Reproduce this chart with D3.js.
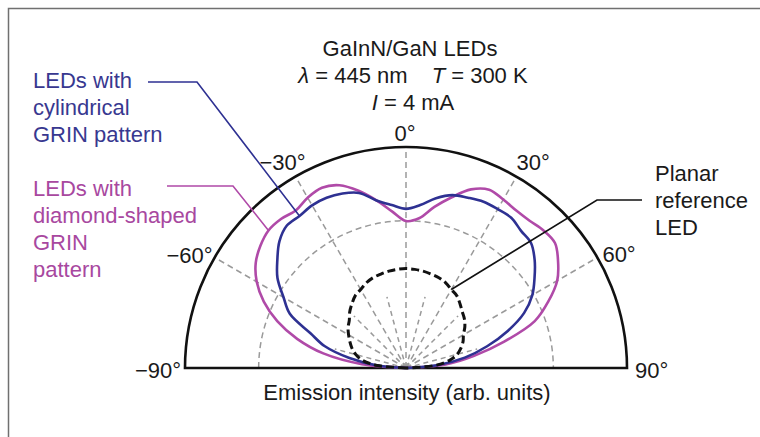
<!DOCTYPE html>
<html>
<head>
<meta charset="utf-8">
<script src="https://cdn.jsdelivr.net/npm/d3@7"></script>
<style>
  body { margin: 0; background: #fff; }
  text { font-family: "Liberation Sans", Arial, sans-serif; font-size: 22px; fill: #1a1a1a; }
</style>
</head>
<body>
<svg id="drawing_region"></svg>
<script>
var width = 760;
var height = 437;

// emission angle (deg), 0 = surface normal
const angles = [-90, -85, -80, -75, -70, -65, -60, -55, -50, -45, -40, -35, -30, -25, -20, -15, -10, -5,
                0, 5, 10, 15, 20, 25, 30, 35, 40, 45, 50, 55, 60, 65, 70, 75, 80, 85, 90];

// emission intensity (arb. units, outer circle = 1)
const cylindrical = [0, 0.13, 0.26, 0.38, 0.46, 0.58, 0.64, 0.71, 0.76, 0.81, 0.84, 0.84, 0.85, 0.85, 0.84, 0.82, 0.77, 0.74,
                     0.72, 0.74, 0.78, 0.81, 0.82, 0.83, 0.83, 0.83, 0.81, 0.80, 0.76, 0.71, 0.66, 0.59, 0.49, 0.38, 0.27, 0.14, 0];
const diamond = [0, 0.20, 0.38, 0.51, 0.62, 0.71, 0.78, 0.83, 0.86, 0.88, 0.88, 0.87, 0.89, 0.90, 0.88, 0.83, 0.77, 0.71,
                 0.665, 0.68, 0.74, 0.80, 0.86, 0.89, 0.88, 0.87, 0.87, 0.88, 0.88, 0.84, 0.79, 0.71, 0.62, 0.46, 0.31, 0.18, 0];
const planar = [0, 0.13, 0.20, 0.235, 0.26, 0.28, 0.30, 0.32, 0.335, 0.36, 0.38, 0.40, 0.41, 0.425, 0.435, 0.44, 0.445, 0.448,
                0.45, 0.448, 0.445, 0.44, 0.435, 0.425, 0.41, 0.40, 0.38, 0.36, 0.345, 0.325, 0.30, 0.285, 0.265, 0.24, 0.20, 0.13, 0];

const tickAngles = [-90, -60, -30, 0, 30, 60, 90];
const tickLabels = ['\u221290\u00b0', '\u221260\u00b0', '\u221230\u00b0', '0\u00b0', '30\u00b0', '60\u00b0', '90\u00b0'];
const minorAngles = [-75, -45, -15, 15, 45, 75];
const gridRings = [2 / 3];

const blue = '#2e3192', magenta = '#b04aa8';

var svg = d3.select('#drawing_region')
      .attr('width', width)
      .attr('height', height);

// picture frame
svg.append('rect')
      .attr('x', 8.5).attr('y', 8.5)
      .attr('width', width).attr('height', height)
      .attr('fill', 'none')
      .attr('stroke', '#707070')
      .attr('stroke-width', 1.5);

const cx = 406, cy = 368, R = 221;
const chart = svg.append('g')
      .attr('transform', `translate(${cx}, ${cy})`);

const rscale = d3.scaleLinear().domain([0, 1]).range([0, R]);
const ascale = d3.scaleLinear().domain([-90, 90]).range([-Math.PI / 2, Math.PI / 2]);

const pt = (deg, v) => [rscale(v) * Math.sin(ascale(deg)), -rscale(v) * Math.cos(ascale(deg))];

// grid
gridRings.forEach(g => {
      const p = d3.path();
      p.arc(0, 0, rscale(g), -Math.PI, 0);
      chart.append('path')
            .attr('d', p.toString())
            .attr('fill', 'none')
            .attr('stroke', '#9a9a9a')
            .attr('stroke-width', 1.5)
            .attr('stroke-dasharray', '6,4');
});

chart.selectAll('.major')
      .data(tickAngles.filter(a => Math.abs(a) < 90))
      .enter()
      .append('line')
      .attr('x1', 0).attr('y1', 0)
      .attr('x2', d => pt(d, 1)[0])
      .attr('y2', d => pt(d, 1)[1])
      .attr('stroke', '#9a9a9a')
      .attr('stroke-width', 1.5)
      .attr('stroke-dasharray', '6,4');

chart.selectAll('.minor')
      .data(minorAngles)
      .enter()
      .append('line')
      .attr('x1', 0).attr('y1', 0)
      .attr('x2', d => pt(d, 1 / 3)[0])
      .attr('y2', d => pt(d, 1 / 3)[1])
      .attr('stroke', '#9a9a9a')
      .attr('stroke-width', 1.5)
      .attr('stroke-dasharray', '5,4');

// outer half circle + baseline
const outer = d3.path();
outer.arc(0, 0, R, -Math.PI, 0);
outer.closePath();
chart.append('path')
      .attr('d', outer.toString())
      .attr('fill', 'none')
      .attr('stroke', '#111')
      .attr('stroke-width', 2.6);

// curves
const line = d3.lineRadial()
      .angle(d => ascale(d[0]))
      .radius(d => rscale(d[1]))
      .curve(d3.curveCatmullRom);

chart.append('path')
      .attr('d', line(d3.zip(angles, diamond)))
      .attr('fill', 'none')
      .attr('stroke', magenta)
      .attr('stroke-width', 2.6);

chart.append('path')
      .attr('d', line(d3.zip(angles, cylindrical)))
      .attr('fill', 'none')
      .attr('stroke', blue)
      .attr('stroke-width', 2.6);

chart.append('path')
      .attr('d', line(d3.zip(angles, planar)))
      .attr('fill', 'none')
      .attr('stroke', '#111')
      .attr('stroke-width', 3)
      .attr('stroke-dasharray', '8,4');

// angle labels
const labelOffset = {'-90': [-4, 10, 'end'], '-60': [-2, 5, 'end'], '-30': [10, -7, 'end'], '0': [-1, -6, 'middle'],
                     '30': [0, -7, 'start'], '60': [5, 4, 'start'], '90': [8, 10, 'start']};
chart.selectAll('.tick')
      .data(tickAngles)
      .enter()
      .append('text')
      .attr('x', d => pt(d, 1)[0] + labelOffset[d][0])
      .attr('y', d => pt(d, 1)[1] + labelOffset[d][1])
      .attr('text-anchor', d => labelOffset[d][2])
      .text((d, i) => tickLabels[i]);

// axis title
svg.append('text')
      .attr('x', 407).attr('y', 400)
      .attr('text-anchor', 'middle')
      .text('Emission intensity (arb. units)');

// heading
const head = svg.append('g').attr('text-anchor', 'middle').style('font-size', '22.5px');
head.append('text').attr('x', 410).attr('y', 56).text('GaInN/GaN LEDs');
const l2 = head.append('text').attr('x', 413).attr('y', 83);
l2.append('tspan').attr('font-style', 'italic').text('\u03bb');
l2.append('tspan').text(' = 445 nm');
l2.append('tspan').attr('dx', 24).attr('font-style', 'italic').text('T');
l2.append('tspan').text(' = 300 K');
const l3 = head.append('text').attr('x', 413).attr('y', 110);
l3.append('tspan').attr('font-style', 'italic').text('I');
l3.append('tspan').text(' = 4 mA');

// legend labels with leader lines
function label(lines, x, y0, color) {
      const t = svg.append('text').style('fill', color);
      lines.forEach((s, i) => t.append('tspan').attr('x', x).attr('y', y0 + i * 27).text(s));
}
function leader(pts, color) {
      svg.append('path')
            .attr('d', d3.line()(pts))
            .attr('fill', 'none')
            .attr('stroke', color)
            .attr('stroke-width', 1.6);
}
const onCurve = (deg, v) => { const p = pt(deg, v); return [p[0] + cx, p[1] + cy]; };

label(['LEDs with', 'cylindrical', 'GRIN pattern'], 33, 88, '#383890');
leader([[148, 82], [197, 82], onCurve(-35, cylindrical[angles.indexOf(-35)])], blue);

label(['LEDs with', 'diamond-shaped', 'GRIN', 'pattern'], 33, 196, '#a8489f');
leader([[167, 186], [233, 186], onCurve(-45, diamond[angles.indexOf(-45)])], magenta);

label(['Planar', 'reference', 'LED'], 655, 181, '#1a1a1a');
leader([[642, 200], [597, 200], onCurve(30, planar[angles.indexOf(30)])], '#111');
</script>
</body>
</html>
